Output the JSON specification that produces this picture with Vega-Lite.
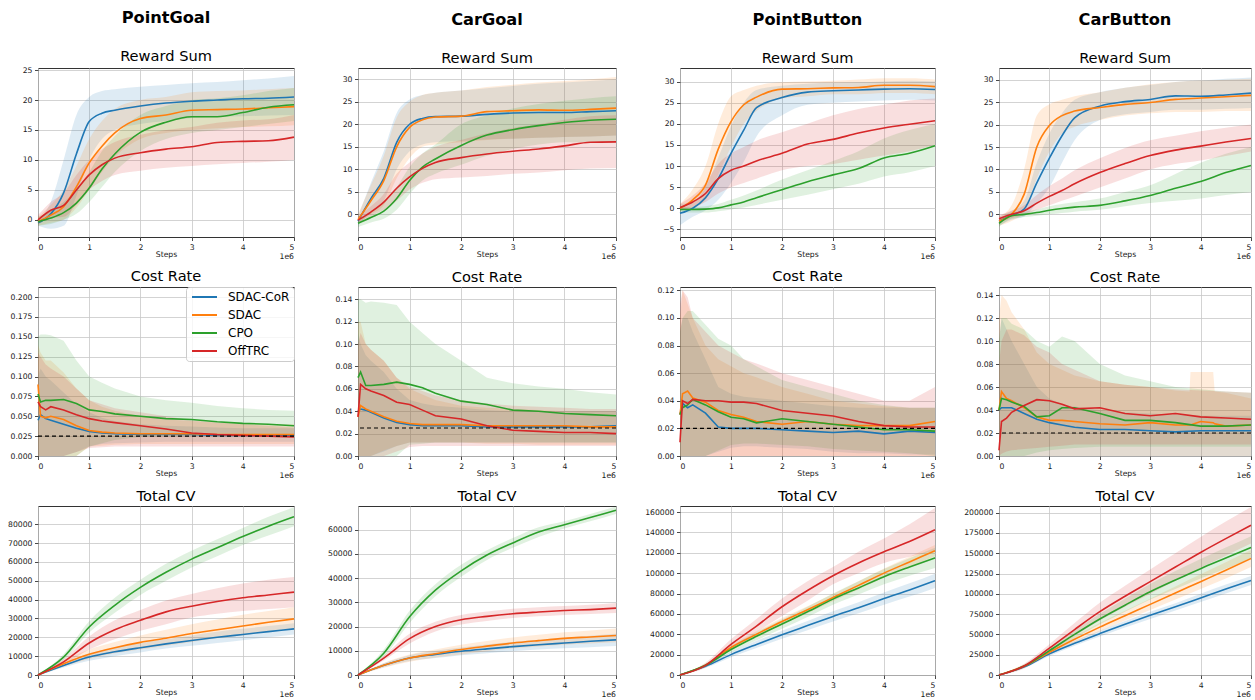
{
"$schema": "https://vega.github.io/schema/vega-lite/v6.json",
"padding": {"left": 7, "top": 9, "right": 0, "bottom": 0},
"datasets": {
"r1": [
{"s":"SDAC-CoR","x":0,"y":-0.5,"lo":-1,"hi":0},{"s":"SDAC-CoR","x":0.25,"y":1,"lo":-1.5,"hi":3},{"s":"SDAC-CoR","x":0.5,"y":4.5,"lo":-1,"hi":10},{"s":"SDAC-CoR","x":0.75,"y":11,"lo":4,"hi":17.5},{"s":"SDAC-CoR","x":1,"y":16.4,"lo":10,"hi":20.5},{"s":"SDAC-CoR","x":1.25,"y":17.8,"lo":13.5,"hi":21.5},{"s":"SDAC-CoR","x":1.5,"y":18.3,"lo":15,"hi":21.8},{"s":"SDAC-CoR","x":2,"y":19,"lo":16,"hi":22.2},{"s":"SDAC-CoR","x":2.5,"y":19.5,"lo":16.5,"hi":22.5},{"s":"SDAC-CoR","x":3,"y":19.8,"lo":17,"hi":22.8},{"s":"SDAC-CoR","x":3.5,"y":20,"lo":17.2,"hi":23},{"s":"SDAC-CoR","x":4,"y":20.2,"lo":17.3,"hi":23.3},{"s":"SDAC-CoR","x":4.5,"y":20.3,"lo":17.4,"hi":23.6},{"s":"SDAC-CoR","x":5,"y":20.5,"lo":17.5,"hi":24},
{"s":"SDAC","x":0,"y":-0.3,"lo":-1,"hi":0.5},{"s":"SDAC","x":0.25,"y":0.8,"lo":-0.5,"hi":2.5},{"s":"SDAC","x":0.5,"y":2.2,"lo":0,"hi":5},{"s":"SDAC","x":0.75,"y":5.5,"lo":2,"hi":9},{"s":"SDAC","x":1,"y":9.5,"lo":5,"hi":13.5},{"s":"SDAC","x":1.25,"y":12.3,"lo":8,"hi":16.5},{"s":"SDAC","x":1.5,"y":14.5,"lo":10.5,"hi":18.5},{"s":"SDAC","x":2,"y":16.9,"lo":13.5,"hi":20},{"s":"SDAC","x":2.5,"y":17.5,"lo":14.5,"hi":20.5},{"s":"SDAC","x":3,"y":18.3,"lo":15,"hi":21.3},{"s":"SDAC","x":3.5,"y":18.4,"lo":15.3,"hi":21.5},{"s":"SDAC","x":4,"y":18.5,"lo":15.5,"hi":21.6},{"s":"SDAC","x":4.5,"y":18.7,"lo":15.6,"hi":21.8},{"s":"SDAC","x":5,"y":18.9,"lo":15.8,"hi":22},
{"s":"CPO","x":0,"y":-0.3,"lo":-1,"hi":0.5},{"s":"CPO","x":0.25,"y":0.3,"lo":-0.7,"hi":1.5},{"s":"CPO","x":0.5,"y":1.2,"lo":0,"hi":3},{"s":"CPO","x":0.75,"y":2.8,"lo":1,"hi":5},{"s":"CPO","x":1,"y":5.3,"lo":3,"hi":8},{"s":"CPO","x":1.25,"y":8.5,"lo":5.5,"hi":11.5},{"s":"CPO","x":1.5,"y":11,"lo":8,"hi":14},{"s":"CPO","x":2,"y":14.6,"lo":11.5,"hi":17.5},{"s":"CPO","x":2.5,"y":16.3,"lo":13.5,"hi":19},{"s":"CPO","x":3,"y":17.2,"lo":14.5,"hi":20},{"s":"CPO","x":3.5,"y":17.2,"lo":15,"hi":20.3},{"s":"CPO","x":4,"y":17.9,"lo":15.5,"hi":20.8},{"s":"CPO","x":4.5,"y":18.8,"lo":16,"hi":21.5},{"s":"CPO","x":5,"y":19.2,"lo":16.5,"hi":22},
{"s":"OffTRC","x":0,"y":0,"lo":-0.8,"hi":0.8},{"s":"OffTRC","x":0.25,"y":1.6,"lo":0.3,"hi":3},{"s":"OffTRC","x":0.5,"y":2.4,"lo":0.5,"hi":4.5},{"s":"OffTRC","x":0.75,"y":5,"lo":2.5,"hi":7.5},{"s":"OffTRC","x":1,"y":7.5,"lo":5,"hi":10},{"s":"OffTRC","x":1.25,"y":9.2,"lo":6.5,"hi":11.8},{"s":"OffTRC","x":1.5,"y":10.3,"lo":7.5,"hi":13},{"s":"OffTRC","x":2,"y":11.2,"lo":8.2,"hi":14.2},{"s":"OffTRC","x":2.5,"y":11.8,"lo":8.7,"hi":15},{"s":"OffTRC","x":3,"y":12.2,"lo":9,"hi":15.5},{"s":"OffTRC","x":3.5,"y":12.9,"lo":9.3,"hi":16.2},{"s":"OffTRC","x":4,"y":13.1,"lo":9.5,"hi":16.6},{"s":"OffTRC","x":4.5,"y":13.2,"lo":9.7,"hi":16.8},{"s":"OffTRC","x":5,"y":13.8,"lo":10,"hi":17.5}
],
"r2": [
{"s":"SDAC-CoR","x":0,"y":-1.5,"lo":-2.5,"hi":-0.5},{"s":"SDAC-CoR","x":0.25,"y":3.5,"lo":0.5,"hi":7},{"s":"SDAC-CoR","x":0.5,"y":8,"lo":3,"hi":14},{"s":"SDAC-CoR","x":0.75,"y":16,"lo":10,"hi":22.5},{"s":"SDAC-CoR","x":1,"y":20,"lo":14,"hi":25.5},{"s":"SDAC-CoR","x":1.25,"y":21.3,"lo":15.5,"hi":26.5},{"s":"SDAC-CoR","x":1.5,"y":21.7,"lo":16,"hi":27},{"s":"SDAC-CoR","x":2,"y":21.8,"lo":16.3,"hi":27.5},{"s":"SDAC-CoR","x":2.5,"y":22.2,"lo":16.6,"hi":28},{"s":"SDAC-CoR","x":3,"y":22.5,"lo":16.8,"hi":28.5},{"s":"SDAC-CoR","x":3.5,"y":22.6,"lo":17,"hi":29},{"s":"SDAC-CoR","x":4,"y":22.6,"lo":17.2,"hi":29.3},{"s":"SDAC-CoR","x":4.5,"y":22.8,"lo":17.3,"hi":29.6},{"s":"SDAC-CoR","x":5,"y":23,"lo":17.5,"hi":30},
{"s":"SDAC","x":0,"y":-1.2,"lo":-2,"hi":0},{"s":"SDAC","x":0.25,"y":3,"lo":0,"hi":6.5},{"s":"SDAC","x":0.5,"y":7.5,"lo":2,"hi":13},{"s":"SDAC","x":0.75,"y":15,"lo":8,"hi":21.5},{"s":"SDAC","x":1,"y":19.3,"lo":12.5,"hi":25},{"s":"SDAC","x":1.25,"y":21,"lo":15,"hi":26.5},{"s":"SDAC","x":1.5,"y":21.6,"lo":15.5,"hi":27},{"s":"SDAC","x":2,"y":21.8,"lo":16,"hi":27.5},{"s":"SDAC","x":2.5,"y":22.8,"lo":16.5,"hi":28.3},{"s":"SDAC","x":3,"y":23,"lo":16.8,"hi":28.8},{"s":"SDAC","x":3.5,"y":23.2,"lo":17,"hi":29.3},{"s":"SDAC","x":4,"y":23.1,"lo":17.2,"hi":29.6},{"s":"SDAC","x":4.5,"y":23.3,"lo":17.3,"hi":30},{"s":"SDAC","x":5,"y":23.6,"lo":17.5,"hi":30.5},
{"s":"CPO","x":0,"y":-2,"lo":-2.8,"hi":-1.2},{"s":"CPO","x":0.25,"y":-0.7,"lo":-1.8,"hi":0.5},{"s":"CPO","x":0.5,"y":0.7,"lo":-1,"hi":2.5},{"s":"CPO","x":0.75,"y":3.5,"lo":1,"hi":6},{"s":"CPO","x":1,"y":7.5,"lo":4.5,"hi":10.5},{"s":"CPO","x":1.25,"y":10.5,"lo":7.5,"hi":13.5},{"s":"CPO","x":1.5,"y":12.3,"lo":9,"hi":15.5},{"s":"CPO","x":2,"y":15.3,"lo":11,"hi":20},{"s":"CPO","x":2.5,"y":17.6,"lo":13,"hi":22},{"s":"CPO","x":3,"y":18.8,"lo":14.5,"hi":23.5},{"s":"CPO","x":3.5,"y":19.7,"lo":15.5,"hi":24.5},{"s":"CPO","x":4,"y":20.4,"lo":16,"hi":25.2},{"s":"CPO","x":4.5,"y":20.9,"lo":16,"hi":25.8},{"s":"CPO","x":5,"y":21.1,"lo":16,"hi":26.2},
{"s":"OffTRC","x":0,"y":-1.3,"lo":-2,"hi":-0.5},{"s":"OffTRC","x":0.25,"y":0.5,"lo":-0.5,"hi":1.8},{"s":"OffTRC","x":0.5,"y":2.7,"lo":1,"hi":4.5},{"s":"OffTRC","x":0.75,"y":5.8,"lo":3,"hi":9},{"s":"OffTRC","x":1,"y":8.3,"lo":5.5,"hi":11.5},{"s":"OffTRC","x":1.25,"y":10.2,"lo":7,"hi":13.5},{"s":"OffTRC","x":1.5,"y":11.5,"lo":7.8,"hi":15},{"s":"OffTRC","x":2,"y":12.6,"lo":8.2,"hi":16.5},{"s":"OffTRC","x":2.5,"y":13.4,"lo":8.5,"hi":18},{"s":"OffTRC","x":3,"y":14,"lo":9,"hi":19.2},{"s":"OffTRC","x":3.5,"y":14.5,"lo":9.3,"hi":20},{"s":"OffTRC","x":4,"y":15.2,"lo":9.8,"hi":21},{"s":"OffTRC","x":4.5,"y":16,"lo":10.2,"hi":21.8},{"s":"OffTRC","x":5,"y":16.1,"lo":10.3,"hi":22}
],
"r3": [
{"s":"SDAC-CoR","x":0,"y":-1.2,"lo":-4,"hi":1},{"s":"SDAC-CoR","x":0.25,"y":0,"lo":-2,"hi":1.5},{"s":"SDAC-CoR","x":0.5,"y":2.5,"lo":-0.5,"hi":5},{"s":"SDAC-CoR","x":0.75,"y":7,"lo":2,"hi":12},{"s":"SDAC-CoR","x":1,"y":13,"lo":6,"hi":19.5},{"s":"SDAC-CoR","x":1.25,"y":18.5,"lo":11,"hi":25},{"s":"SDAC-CoR","x":1.5,"y":23.8,"lo":17,"hi":28},{"s":"SDAC-CoR","x":2,"y":26.2,"lo":22,"hi":29},{"s":"SDAC-CoR","x":2.5,"y":27.5,"lo":24.5,"hi":29.5},{"s":"SDAC-CoR","x":3,"y":27.8,"lo":25,"hi":29.7},{"s":"SDAC-CoR","x":3.5,"y":28,"lo":25.3,"hi":29.8},{"s":"SDAC-CoR","x":4,"y":28.2,"lo":25.5,"hi":30},{"s":"SDAC-CoR","x":4.5,"y":28.3,"lo":25.7,"hi":30.2},{"s":"SDAC-CoR","x":5,"y":28.1,"lo":25.5,"hi":30},
{"s":"SDAC","x":0,"y":0,"lo":-0.5,"hi":1},{"s":"SDAC","x":0.25,"y":2,"lo":0,"hi":4.5},{"s":"SDAC","x":0.5,"y":5.5,"lo":2,"hi":10},{"s":"SDAC","x":0.75,"y":14,"lo":8,"hi":20},{"s":"SDAC","x":1,"y":20.5,"lo":14.5,"hi":26.5},{"s":"SDAC","x":1.25,"y":24.5,"lo":20,"hi":28},{"s":"SDAC","x":1.5,"y":26.3,"lo":23,"hi":29},{"s":"SDAC","x":2,"y":28.2,"lo":26,"hi":29.8},{"s":"SDAC","x":2.5,"y":28.3,"lo":26.5,"hi":30},{"s":"SDAC","x":3,"y":28.5,"lo":27,"hi":30.2},{"s":"SDAC","x":3.5,"y":28.6,"lo":27,"hi":30.5},{"s":"SDAC","x":4,"y":29.1,"lo":27.3,"hi":30.8},{"s":"SDAC","x":4.5,"y":29.1,"lo":27.3,"hi":30.8},{"s":"SDAC","x":5,"y":28.8,"lo":27,"hi":30.5},
{"s":"CPO","x":0,"y":-0.3,"lo":-1,"hi":0.3},{"s":"CPO","x":0.25,"y":-0.3,"lo":-1,"hi":0.3},{"s":"CPO","x":0.5,"y":-0.2,"lo":-1,"hi":0.5},{"s":"CPO","x":0.75,"y":0.1,"lo":-0.7,"hi":1},{"s":"CPO","x":1,"y":0.8,"lo":-0.3,"hi":2},{"s":"CPO","x":1.25,"y":1.5,"lo":0.2,"hi":3},{"s":"CPO","x":1.5,"y":2.5,"lo":0.8,"hi":4.2},{"s":"CPO","x":2,"y":4.4,"lo":2,"hi":6.8},{"s":"CPO","x":2.5,"y":6.3,"lo":3.2,"hi":9},{"s":"CPO","x":3,"y":7.9,"lo":4.5,"hi":11.2},{"s":"CPO","x":3.5,"y":9.4,"lo":5.8,"hi":13.5},{"s":"CPO","x":4,"y":11.9,"lo":7.5,"hi":16.5},{"s":"CPO","x":4.5,"y":13,"lo":8.5,"hi":18.5},{"s":"CPO","x":5,"y":14.8,"lo":10,"hi":20},
{"s":"OffTRC","x":0,"y":0.2,"lo":-0.5,"hi":1},{"s":"OffTRC","x":0.25,"y":1.5,"lo":0.3,"hi":3},{"s":"OffTRC","x":0.5,"y":3.5,"lo":1.5,"hi":6},{"s":"OffTRC","x":0.75,"y":7,"lo":3.5,"hi":10.5},{"s":"OffTRC","x":1,"y":9,"lo":5,"hi":13},{"s":"OffTRC","x":1.25,"y":10,"lo":6,"hi":14.5},{"s":"OffTRC","x":1.5,"y":11.2,"lo":7,"hi":16},{"s":"OffTRC","x":2,"y":13,"lo":9,"hi":18},{"s":"OffTRC","x":2.5,"y":15.2,"lo":10,"hi":20},{"s":"OffTRC","x":3,"y":16.3,"lo":10.5,"hi":22},{"s":"OffTRC","x":3.5,"y":17.8,"lo":11.5,"hi":23.5},{"s":"OffTRC","x":4,"y":19,"lo":12.5,"hi":24.5},{"s":"OffTRC","x":4.5,"y":19.9,"lo":13.5,"hi":25.5},{"s":"OffTRC","x":5,"y":20.7,"lo":15,"hi":26}
],
"r4": [
{"s":"SDAC-CoR","x":0,"y":-1.5,"lo":-2.5,"hi":-0.5},{"s":"SDAC-CoR","x":0.25,"y":-0.2,"lo":-1.2,"hi":0.8},{"s":"SDAC-CoR","x":0.5,"y":1.2,"lo":-0.5,"hi":3},{"s":"SDAC-CoR","x":0.75,"y":7,"lo":2.5,"hi":11.5},{"s":"SDAC-CoR","x":1,"y":12.5,"lo":6,"hi":18},{"s":"SDAC-CoR","x":1.25,"y":17.5,"lo":11.5,"hi":22.5},{"s":"SDAC-CoR","x":1.5,"y":21.5,"lo":16.5,"hi":25.5},{"s":"SDAC-CoR","x":2,"y":24.1,"lo":21,"hi":27.2},{"s":"SDAC-CoR","x":2.5,"y":25.1,"lo":22.3,"hi":28.2},{"s":"SDAC-CoR","x":3,"y":25.6,"lo":22.8,"hi":28.8},{"s":"SDAC-CoR","x":3.5,"y":26.4,"lo":23.3,"hi":29.5},{"s":"SDAC-CoR","x":4,"y":26.3,"lo":23.3,"hi":29.8},{"s":"SDAC-CoR","x":4.5,"y":26.6,"lo":23.5,"hi":30.2},{"s":"SDAC-CoR","x":5,"y":27,"lo":23.7,"hi":30.5},
{"s":"SDAC","x":0,"y":-1.5,"lo":-2.5,"hi":-0.5},{"s":"SDAC","x":0.25,"y":0,"lo":-1.5,"hi":2},{"s":"SDAC","x":0.5,"y":4.5,"lo":0.5,"hi":10},{"s":"SDAC","x":0.75,"y":15,"lo":8,"hi":22},{"s":"SDAC","x":1,"y":19.8,"lo":14,"hi":24.5},{"s":"SDAC","x":1.25,"y":22,"lo":18,"hi":25.5},{"s":"SDAC","x":1.5,"y":23,"lo":19.5,"hi":26.3},{"s":"SDAC","x":2,"y":23.8,"lo":21,"hi":27.2},{"s":"SDAC","x":2.5,"y":24.5,"lo":22,"hi":28.2},{"s":"SDAC","x":3,"y":24.9,"lo":22.5,"hi":29},{"s":"SDAC","x":3.5,"y":25.6,"lo":22.8,"hi":29.5},{"s":"SDAC","x":4,"y":25.9,"lo":22.8,"hi":29.8},{"s":"SDAC","x":4.5,"y":26.2,"lo":23,"hi":30},{"s":"SDAC","x":5,"y":26.5,"lo":23,"hi":30.2},
{"s":"CPO","x":0,"y":-2,"lo":-2.8,"hi":-1.2},{"s":"CPO","x":0.25,"y":-0.3,"lo":-1,"hi":0.4},{"s":"CPO","x":0.5,"y":0,"lo":-0.6,"hi":0.6},{"s":"CPO","x":0.75,"y":0.4,"lo":-0.3,"hi":1.1},{"s":"CPO","x":1,"y":0.9,"lo":0,"hi":1.8},{"s":"CPO","x":1.25,"y":1.3,"lo":0.3,"hi":2.3},{"s":"CPO","x":1.5,"y":1.6,"lo":0.6,"hi":2.7},{"s":"CPO","x":2,"y":2,"lo":1,"hi":3.5},{"s":"CPO","x":2.5,"y":3,"lo":1.8,"hi":5},{"s":"CPO","x":3,"y":4.2,"lo":2.5,"hi":6.5},{"s":"CPO","x":3.5,"y":5.8,"lo":3,"hi":9},{"s":"CPO","x":4,"y":7.3,"lo":3.5,"hi":11.5},{"s":"CPO","x":4.5,"y":9.3,"lo":4.3,"hi":13.5},{"s":"CPO","x":5,"y":10.9,"lo":5,"hi":15},
{"s":"OffTRC","x":0,"y":-1,"lo":-1.8,"hi":-0.2},{"s":"OffTRC","x":0.25,"y":0,"lo":-0.8,"hi":0.8},{"s":"OffTRC","x":0.5,"y":0.8,"lo":-0.2,"hi":2},{"s":"OffTRC","x":0.75,"y":2.5,"lo":1,"hi":4.3},{"s":"OffTRC","x":1,"y":4,"lo":2,"hi":6.3},{"s":"OffTRC","x":1.25,"y":5.3,"lo":3,"hi":8},{"s":"OffTRC","x":1.5,"y":6.8,"lo":4,"hi":9.8},{"s":"OffTRC","x":2,"y":9.3,"lo":6,"hi":12.5},{"s":"OffTRC","x":2.5,"y":11.3,"lo":8,"hi":14.8},{"s":"OffTRC","x":3,"y":13.1,"lo":10,"hi":16.5},{"s":"OffTRC","x":3.5,"y":14.3,"lo":11.2,"hi":17.5},{"s":"OffTRC","x":4,"y":15.2,"lo":12,"hi":18.5},{"s":"OffTRC","x":4.5,"y":16.1,"lo":13,"hi":19.3},{"s":"OffTRC","x":5,"y":16.9,"lo":14,"hi":20}
],
"c1": [
{"s":"SDAC-CoR","x":0,"y":0.045,"lo":0,"hi":0.1},{"s":"SDAC-CoR","x":0.05,"y":0.052,"lo":0,"hi":0.11},{"s":"SDAC-CoR","x":0.15,"y":0.047,"lo":0,"hi":0.1},{"s":"SDAC-CoR","x":0.25,"y":0.045,"lo":0,"hi":0.095},{"s":"SDAC-CoR","x":0.5,"y":0.04,"lo":0,"hi":0.08},{"s":"SDAC-CoR","x":0.75,"y":0.035,"lo":0.005,"hi":0.065},{"s":"SDAC-CoR","x":1,"y":0.031,"lo":0.012,"hi":0.055},{"s":"SDAC-CoR","x":1.25,"y":0.029,"lo":0.015,"hi":0.048},{"s":"SDAC-CoR","x":1.5,"y":0.028,"lo":0.016,"hi":0.044},{"s":"SDAC-CoR","x":2,"y":0.027,"lo":0.017,"hi":0.04},{"s":"SDAC-CoR","x":2.5,"y":0.027,"lo":0.018,"hi":0.038},{"s":"SDAC-CoR","x":3,"y":0.027,"lo":0.018,"hi":0.037},{"s":"SDAC-CoR","x":3.5,"y":0.026,"lo":0.018,"hi":0.036},{"s":"SDAC-CoR","x":4,"y":0.026,"lo":0.018,"hi":0.035},{"s":"SDAC-CoR","x":4.5,"y":0.026,"lo":0.018,"hi":0.035},{"s":"SDAC-CoR","x":5,"y":0.026,"lo":0.018,"hi":0.035},
{"s":"SDAC","x":0,"y":0.09,"lo":0,"hi":0.14},{"s":"SDAC","x":0.05,"y":0.05,"lo":0,"hi":0.13},{"s":"SDAC","x":0.15,"y":0.048,"lo":0,"hi":0.12},{"s":"SDAC","x":0.25,"y":0.05,"lo":0,"hi":0.12},{"s":"SDAC","x":0.5,"y":0.046,"lo":0,"hi":0.105},{"s":"SDAC","x":0.75,"y":0.038,"lo":0,"hi":0.085},{"s":"SDAC","x":1,"y":0.032,"lo":0.012,"hi":0.07},{"s":"SDAC","x":1.25,"y":0.03,"lo":0.013,"hi":0.062},{"s":"SDAC","x":1.5,"y":0.029,"lo":0.014,"hi":0.057},{"s":"SDAC","x":2,"y":0.028,"lo":0.015,"hi":0.05},{"s":"SDAC","x":2.5,"y":0.028,"lo":0.015,"hi":0.046},{"s":"SDAC","x":3,"y":0.028,"lo":0.015,"hi":0.044},{"s":"SDAC","x":3.5,"y":0.027,"lo":0.015,"hi":0.042},{"s":"SDAC","x":4,"y":0.027,"lo":0.015,"hi":0.041},{"s":"SDAC","x":4.5,"y":0.027,"lo":0.015,"hi":0.04},{"s":"SDAC","x":5,"y":0.027,"lo":0.015,"hi":0.04},
{"s":"CPO","x":0,"y":0.078,"lo":0,"hi":0.15},{"s":"CPO","x":0.05,"y":0.068,"lo":0,"hi":0.153},{"s":"CPO","x":0.15,"y":0.07,"lo":0,"hi":0.153},{"s":"CPO","x":0.25,"y":0.07,"lo":0,"hi":0.152},{"s":"CPO","x":0.5,"y":0.071,"lo":0,"hi":0.145},{"s":"CPO","x":0.75,"y":0.066,"lo":0,"hi":0.12},{"s":"CPO","x":1,"y":0.058,"lo":0.012,"hi":0.1},{"s":"CPO","x":1.25,"y":0.056,"lo":0.016,"hi":0.092},{"s":"CPO","x":1.5,"y":0.053,"lo":0.02,"hi":0.085},{"s":"CPO","x":2,"y":0.05,"lo":0.024,"hi":0.075},{"s":"CPO","x":2.5,"y":0.047,"lo":0.025,"hi":0.07},{"s":"CPO","x":3,"y":0.046,"lo":0.025,"hi":0.067},{"s":"CPO","x":3.5,"y":0.043,"lo":0.025,"hi":0.063},{"s":"CPO","x":4,"y":0.041,"lo":0.025,"hi":0.06},{"s":"CPO","x":4.5,"y":0.04,"lo":0.025,"hi":0.058},{"s":"CPO","x":5,"y":0.038,"lo":0.025,"hi":0.057},
{"s":"OffTRC","x":0,"y":0.068,"lo":0,"hi":0.13},{"s":"OffTRC","x":0.05,"y":0.062,"lo":0,"hi":0.125},{"s":"OffTRC","x":0.15,"y":0.058,"lo":0,"hi":0.115},{"s":"OffTRC","x":0.25,"y":0.062,"lo":0,"hi":0.11},{"s":"OffTRC","x":0.5,"y":0.058,"lo":0,"hi":0.1},{"s":"OffTRC","x":0.75,"y":0.052,"lo":0.005,"hi":0.085},{"s":"OffTRC","x":1,"y":0.047,"lo":0.01,"hi":0.07},{"s":"OffTRC","x":1.25,"y":0.044,"lo":0.011,"hi":0.065},{"s":"OffTRC","x":1.5,"y":0.042,"lo":0.012,"hi":0.06},{"s":"OffTRC","x":2,"y":0.038,"lo":0.012,"hi":0.055},{"s":"OffTRC","x":2.5,"y":0.034,"lo":0.012,"hi":0.05},{"s":"OffTRC","x":3,"y":0.029,"lo":0.012,"hi":0.045},{"s":"OffTRC","x":3.5,"y":0.027,"lo":0.012,"hi":0.042},{"s":"OffTRC","x":4,"y":0.026,"lo":0.012,"hi":0.04},{"s":"OffTRC","x":4.5,"y":0.025,"lo":0.012,"hi":0.038},{"s":"OffTRC","x":5,"y":0.024,"lo":0.012,"hi":0.036}
],
"c2": [
{"s":"SDAC-CoR","x":0,"y":0.04,"lo":0,"hi":0.11},{"s":"SDAC-CoR","x":0.05,"y":0.042,"lo":0,"hi":0.1},{"s":"SDAC-CoR","x":0.15,"y":0.041,"lo":0,"hi":0.09},{"s":"SDAC-CoR","x":0.25,"y":0.039,"lo":0,"hi":0.085},{"s":"SDAC-CoR","x":0.5,"y":0.034,"lo":0.004,"hi":0.075},{"s":"SDAC-CoR","x":0.75,"y":0.03,"lo":0.009,"hi":0.06},{"s":"SDAC-CoR","x":1,"y":0.028,"lo":0.012,"hi":0.05},{"s":"SDAC-CoR","x":1.25,"y":0.027,"lo":0.012,"hi":0.047},{"s":"SDAC-CoR","x":1.5,"y":0.027,"lo":0.012,"hi":0.045},{"s":"SDAC-CoR","x":2,"y":0.027,"lo":0.012,"hi":0.043},{"s":"SDAC-CoR","x":2.5,"y":0.026,"lo":0.012,"hi":0.041},{"s":"SDAC-CoR","x":3,"y":0.026,"lo":0.012,"hi":0.04},{"s":"SDAC-CoR","x":3.5,"y":0.026,"lo":0.012,"hi":0.04},{"s":"SDAC-CoR","x":4,"y":0.026,"lo":0.012,"hi":0.04},{"s":"SDAC-CoR","x":4.5,"y":0.026,"lo":0.012,"hi":0.04},{"s":"SDAC-CoR","x":5,"y":0.027,"lo":0.012,"hi":0.04},
{"s":"SDAC","x":0,"y":0.035,"lo":0,"hi":0.12},{"s":"SDAC","x":0.05,"y":0.045,"lo":0,"hi":0.12},{"s":"SDAC","x":0.15,"y":0.042,"lo":0,"hi":0.1},{"s":"SDAC","x":0.25,"y":0.04,"lo":0,"hi":0.095},{"s":"SDAC","x":0.5,"y":0.035,"lo":0.005,"hi":0.085},{"s":"SDAC","x":0.75,"y":0.031,"lo":0.009,"hi":0.07},{"s":"SDAC","x":1,"y":0.029,"lo":0.012,"hi":0.06},{"s":"SDAC","x":1.25,"y":0.028,"lo":0.012,"hi":0.055},{"s":"SDAC","x":1.5,"y":0.028,"lo":0.012,"hi":0.05},{"s":"SDAC","x":2,"y":0.028,"lo":0.012,"hi":0.045},{"s":"SDAC","x":2.5,"y":0.027,"lo":0.011,"hi":0.043},{"s":"SDAC","x":3,"y":0.027,"lo":0.011,"hi":0.042},{"s":"SDAC","x":3.5,"y":0.027,"lo":0.01,"hi":0.041},{"s":"SDAC","x":4,"y":0.027,"lo":0.01,"hi":0.04},{"s":"SDAC","x":4.5,"y":0.026,"lo":0.01,"hi":0.04},{"s":"SDAC","x":5,"y":0.026,"lo":0.01,"hi":0.04},
{"s":"CPO","x":0,"y":0.07,"lo":0,"hi":0.14},{"s":"CPO","x":0.05,"y":0.075,"lo":0,"hi":0.14},{"s":"CPO","x":0.15,"y":0.063,"lo":0,"hi":0.137},{"s":"CPO","x":0.25,"y":0.063,"lo":0,"hi":0.138},{"s":"CPO","x":0.5,"y":0.064,"lo":0,"hi":0.137},{"s":"CPO","x":0.75,"y":0.066,"lo":0,"hi":0.135},{"s":"CPO","x":1,"y":0.064,"lo":0.01,"hi":0.12},{"s":"CPO","x":1.25,"y":0.061,"lo":0.011,"hi":0.11},{"s":"CPO","x":1.5,"y":0.056,"lo":0.012,"hi":0.1},{"s":"CPO","x":2,"y":0.049,"lo":0.012,"hi":0.085},{"s":"CPO","x":2.5,"y":0.046,"lo":0.012,"hi":0.07},{"s":"CPO","x":3,"y":0.041,"lo":0.012,"hi":0.065},{"s":"CPO","x":3.5,"y":0.04,"lo":0.012,"hi":0.062},{"s":"CPO","x":4,"y":0.038,"lo":0.012,"hi":0.06},{"s":"CPO","x":4.5,"y":0.037,"lo":0.012,"hi":0.057},{"s":"CPO","x":5,"y":0.036,"lo":0.012,"hi":0.055},
{"s":"OffTRC","x":0,"y":0.035,"lo":0,"hi":0.1},{"s":"OffTRC","x":0.05,"y":0.064,"lo":0,"hi":0.11},{"s":"OffTRC","x":0.15,"y":0.06,"lo":0,"hi":0.1},{"s":"OffTRC","x":0.25,"y":0.058,"lo":0,"hi":0.095},{"s":"OffTRC","x":0.5,"y":0.054,"lo":0,"hi":0.085},{"s":"OffTRC","x":0.75,"y":0.048,"lo":0.004,"hi":0.07},{"s":"OffTRC","x":1,"y":0.046,"lo":0.008,"hi":0.062},{"s":"OffTRC","x":1.25,"y":0.041,"lo":0.009,"hi":0.058},{"s":"OffTRC","x":1.5,"y":0.036,"lo":0.009,"hi":0.054},{"s":"OffTRC","x":2,"y":0.033,"lo":0.009,"hi":0.05},{"s":"OffTRC","x":2.5,"y":0.027,"lo":0.009,"hi":0.047},{"s":"OffTRC","x":3,"y":0.023,"lo":0.009,"hi":0.045},{"s":"OffTRC","x":3.5,"y":0.022,"lo":0.009,"hi":0.044},{"s":"OffTRC","x":4,"y":0.021,"lo":0.009,"hi":0.043},{"s":"OffTRC","x":4.5,"y":0.021,"lo":0.009,"hi":0.042},{"s":"OffTRC","x":5,"y":0.02,"lo":0.009,"hi":0.042}
],
"c3": [
{"s":"SDAC-CoR","x":0,"y":0.03,"lo":0,"hi":0.09},{"s":"SDAC-CoR","x":0.05,"y":0.038,"lo":0,"hi":0.1},{"s":"SDAC-CoR","x":0.15,"y":0.035,"lo":0,"hi":0.1},{"s":"SDAC-CoR","x":0.25,"y":0.037,"lo":0,"hi":0.09},{"s":"SDAC-CoR","x":0.5,"y":0.031,"lo":0,"hi":0.07},{"s":"SDAC-CoR","x":0.75,"y":0.021,"lo":0.003,"hi":0.05},{"s":"SDAC-CoR","x":1,"y":0.02,"lo":0.006,"hi":0.045},{"s":"SDAC-CoR","x":1.25,"y":0.02,"lo":0.007,"hi":0.043},{"s":"SDAC-CoR","x":1.5,"y":0.02,"lo":0.007,"hi":0.042},{"s":"SDAC-CoR","x":2,"y":0.019,"lo":0.006,"hi":0.04},{"s":"SDAC-CoR","x":2.5,"y":0.018,"lo":0.005,"hi":0.038},{"s":"SDAC-CoR","x":3,"y":0.017,"lo":0.003,"hi":0.036},{"s":"SDAC-CoR","x":3.5,"y":0.018,"lo":0.002,"hi":0.035},{"s":"SDAC-CoR","x":4,"y":0.016,"lo":0.002,"hi":0.035},{"s":"SDAC-CoR","x":4.5,"y":0.018,"lo":0.001,"hi":0.035},{"s":"SDAC-CoR","x":5,"y":0.017,"lo":0.001,"hi":0.035},
{"s":"SDAC","x":0,"y":0.03,"lo":0,"hi":0.1},{"s":"SDAC","x":0.05,"y":0.045,"lo":0,"hi":0.12},{"s":"SDAC","x":0.15,"y":0.047,"lo":0,"hi":0.11},{"s":"SDAC","x":0.25,"y":0.042,"lo":0,"hi":0.1},{"s":"SDAC","x":0.5,"y":0.039,"lo":0,"hi":0.08},{"s":"SDAC","x":0.75,"y":0.033,"lo":0,"hi":0.07},{"s":"SDAC","x":1,"y":0.03,"lo":0,"hi":0.065},{"s":"SDAC","x":1.25,"y":0.028,"lo":0,"hi":0.06},{"s":"SDAC","x":1.5,"y":0.025,"lo":0,"hi":0.057},{"s":"SDAC","x":2,"y":0.023,"lo":0,"hi":0.05},{"s":"SDAC","x":2.5,"y":0.025,"lo":0,"hi":0.045},{"s":"SDAC","x":3,"y":0.023,"lo":0,"hi":0.04},{"s":"SDAC","x":3.5,"y":0.022,"lo":0,"hi":0.038},{"s":"SDAC","x":4,"y":0.022,"lo":0,"hi":0.036},{"s":"SDAC","x":4.5,"y":0.022,"lo":0,"hi":0.035},{"s":"SDAC","x":5,"y":0.025,"lo":0,"hi":0.035},
{"s":"CPO","x":0,"y":0.03,"lo":0,"hi":0.09},{"s":"CPO","x":0.05,"y":0.035,"lo":0,"hi":0.1},{"s":"CPO","x":0.15,"y":0.037,"lo":0,"hi":0.105},{"s":"CPO","x":0.25,"y":0.041,"lo":0,"hi":0.105},{"s":"CPO","x":0.5,"y":0.037,"lo":0,"hi":0.095},{"s":"CPO","x":0.75,"y":0.032,"lo":0.004,"hi":0.085},{"s":"CPO","x":1,"y":0.028,"lo":0.008,"hi":0.08},{"s":"CPO","x":1.25,"y":0.027,"lo":0.009,"hi":0.07},{"s":"CPO","x":1.5,"y":0.024,"lo":0.009,"hi":0.065},{"s":"CPO","x":2,"y":0.027,"lo":0.008,"hi":0.055},{"s":"CPO","x":2.5,"y":0.025,"lo":0.007,"hi":0.05},{"s":"CPO","x":3,"y":0.023,"lo":0.005,"hi":0.045},{"s":"CPO","x":3.5,"y":0.021,"lo":0.004,"hi":0.04},{"s":"CPO","x":4,"y":0.019,"lo":0.003,"hi":0.037},{"s":"CPO","x":4.5,"y":0.019,"lo":0.002,"hi":0.035},{"s":"CPO","x":5,"y":0.018,"lo":0,"hi":0.035},
{"s":"OffTRC","x":0,"y":0.01,"lo":0,"hi":0.11},{"s":"OffTRC","x":0.05,"y":0.04,"lo":0,"hi":0.12},{"s":"OffTRC","x":0.15,"y":0.038,"lo":0,"hi":0.115},{"s":"OffTRC","x":0.25,"y":0.041,"lo":0,"hi":0.1},{"s":"OffTRC","x":0.5,"y":0.04,"lo":0,"hi":0.09},{"s":"OffTRC","x":0.75,"y":0.04,"lo":0,"hi":0.08},{"s":"OffTRC","x":1,"y":0.039,"lo":0,"hi":0.075},{"s":"OffTRC","x":1.25,"y":0.039,"lo":0,"hi":0.07},{"s":"OffTRC","x":1.5,"y":0.038,"lo":0,"hi":0.067},{"s":"OffTRC","x":2,"y":0.033,"lo":0,"hi":0.06},{"s":"OffTRC","x":2.5,"y":0.031,"lo":0,"hi":0.055},{"s":"OffTRC","x":3,"y":0.029,"lo":0,"hi":0.05},{"s":"OffTRC","x":3.5,"y":0.025,"lo":0,"hi":0.045},{"s":"OffTRC","x":4,"y":0.022,"lo":0,"hi":0.04},{"s":"OffTRC","x":4.5,"y":0.021,"lo":0,"hi":0.04},{"s":"OffTRC","x":5,"y":0.021,"lo":0,"hi":0.05}
],
"c4": [
{"s":"SDAC-CoR","x":0,"y":0.04,"lo":0,"hi":0.1},{"s":"SDAC-CoR","x":0.05,"y":0.042,"lo":0,"hi":0.12},{"s":"SDAC-CoR","x":0.15,"y":0.042,"lo":0,"hi":0.11},{"s":"SDAC-CoR","x":0.25,"y":0.042,"lo":0,"hi":0.1},{"s":"SDAC-CoR","x":0.5,"y":0.037,"lo":0,"hi":0.08},{"s":"SDAC-CoR","x":0.75,"y":0.032,"lo":0,"hi":0.06},{"s":"SDAC-CoR","x":1,"y":0.029,"lo":0,"hi":0.05},{"s":"SDAC-CoR","x":1.25,"y":0.027,"lo":0,"hi":0.045},{"s":"SDAC-CoR","x":1.5,"y":0.025,"lo":0,"hi":0.043},{"s":"SDAC-CoR","x":2,"y":0.023,"lo":0,"hi":0.04},{"s":"SDAC-CoR","x":2.5,"y":0.023,"lo":0,"hi":0.038},{"s":"SDAC-CoR","x":3,"y":0.022,"lo":0,"hi":0.037},{"s":"SDAC-CoR","x":3.5,"y":0.021,"lo":0,"hi":0.036},{"s":"SDAC-CoR","x":4,"y":0.022,"lo":0,"hi":0.035},{"s":"SDAC-CoR","x":4.5,"y":0.022,"lo":0,"hi":0.035},{"s":"SDAC-CoR","x":5,"y":0.022,"lo":0,"hi":0.035},
{"s":"SDAC","x":0,"y":0.04,"lo":0,"hi":0.12},{"s":"SDAC","x":0.05,"y":0.056,"lo":0,"hi":0.14},{"s":"SDAC","x":0.15,"y":0.05,"lo":0,"hi":0.135},{"s":"SDAC","x":0.25,"y":0.048,"lo":0,"hi":0.125},{"s":"SDAC","x":0.5,"y":0.042,"lo":0,"hi":0.11},{"s":"SDAC","x":0.75,"y":0.034,"lo":0,"hi":0.09},{"s":"SDAC","x":1,"y":0.031,"lo":0,"hi":0.08},{"s":"SDAC","x":1.25,"y":0.031,"lo":0,"hi":0.075},{"s":"SDAC","x":1.5,"y":0.03,"lo":0,"hi":0.07},{"s":"SDAC","x":2,"y":0.028,"lo":0,"hi":0.065},{"s":"SDAC","x":2.5,"y":0.027,"lo":0,"hi":0.062},{"s":"SDAC","x":3,"y":0.029,"lo":0,"hi":0.06},{"s":"SDAC","x":3.5,"y":0.027,"lo":0,"hi":0.057},{"s":"SDAC","x":3.78,"y":0.027,"lo":0,"hi":0.056},{"s":"SDAC","x":3.8,"y":0.027,"lo":0,"hi":0.073},{"s":"SDAC","x":4,"y":0.03,"lo":0,"hi":0.073},{"s":"SDAC","x":4.25,"y":0.029,"lo":0,"hi":0.073},{"s":"SDAC","x":4.28,"y":0.028,"lo":0,"hi":0.056},{"s":"SDAC","x":4.5,"y":0.026,"lo":0,"hi":0.055},{"s":"SDAC","x":5,"y":0.027,"lo":0,"hi":0.05},
{"s":"CPO","x":0,"y":0.04,"lo":0,"hi":0.1},{"s":"CPO","x":0.05,"y":0.05,"lo":0,"hi":0.12},{"s":"CPO","x":0.15,"y":0.049,"lo":0,"hi":0.12},{"s":"CPO","x":0.25,"y":0.047,"lo":0,"hi":0.115},{"s":"CPO","x":0.5,"y":0.043,"lo":0,"hi":0.11},{"s":"CPO","x":0.75,"y":0.034,"lo":0.003,"hi":0.1},{"s":"CPO","x":1,"y":0.035,"lo":0.005,"hi":0.095},{"s":"CPO","x":1.25,"y":0.042,"lo":0.006,"hi":0.104},{"s":"CPO","x":1.5,"y":0.042,"lo":0.007,"hi":0.1},{"s":"CPO","x":2,"y":0.037,"lo":0.008,"hi":0.08},{"s":"CPO","x":2.5,"y":0.031,"lo":0.008,"hi":0.07},{"s":"CPO","x":3,"y":0.031,"lo":0.008,"hi":0.065},{"s":"CPO","x":3.5,"y":0.029,"lo":0.008,"hi":0.06},{"s":"CPO","x":4,"y":0.026,"lo":0.008,"hi":0.058},{"s":"CPO","x":4.5,"y":0.026,"lo":0.008,"hi":0.056},{"s":"CPO","x":5,"y":0.027,"lo":0.008,"hi":0.055},
{"s":"OffTRC","x":0,"y":0.005,"lo":0,"hi":0.08},{"s":"OffTRC","x":0.05,"y":0.03,"lo":0.002,"hi":0.1},{"s":"OffTRC","x":0.15,"y":0.033,"lo":0.004,"hi":0.11},{"s":"OffTRC","x":0.25,"y":0.038,"lo":0.005,"hi":0.11},{"s":"OffTRC","x":0.5,"y":0.044,"lo":0.006,"hi":0.105},{"s":"OffTRC","x":0.75,"y":0.049,"lo":0.007,"hi":0.095},{"s":"OffTRC","x":1,"y":0.048,"lo":0.008,"hi":0.09},{"s":"OffTRC","x":1.25,"y":0.045,"lo":0.009,"hi":0.08},{"s":"OffTRC","x":1.5,"y":0.041,"lo":0.01,"hi":0.075},{"s":"OffTRC","x":2,"y":0.042,"lo":0.01,"hi":0.065},{"s":"OffTRC","x":2.5,"y":0.037,"lo":0.01,"hi":0.062},{"s":"OffTRC","x":3,"y":0.035,"lo":0.01,"hi":0.06},{"s":"OffTRC","x":3.5,"y":0.037,"lo":0.01,"hi":0.058},{"s":"OffTRC","x":4,"y":0.034,"lo":0.01,"hi":0.057},{"s":"OffTRC","x":4.5,"y":0.033,"lo":0.01,"hi":0.056},{"s":"OffTRC","x":5,"y":0.032,"lo":0.01,"hi":0.055}
],
"v1": [
{"s":"SDAC-CoR","x":0,"y":0,"lo":0,"hi":0},{"s":"SDAC-CoR","x":0.5,"y":5000,"lo":4000,"hi":6000},{"s":"SDAC-CoR","x":1,"y":9500,"lo":7500,"hi":11500},{"s":"SDAC-CoR","x":1.5,"y":12300,"lo":10000,"hi":14500},{"s":"SDAC-CoR","x":2,"y":14500,"lo":12000,"hi":17000},{"s":"SDAC-CoR","x":2.5,"y":16500,"lo":14000,"hi":19000},{"s":"SDAC-CoR","x":3,"y":18300,"lo":15500,"hi":21000},{"s":"SDAC-CoR","x":3.5,"y":20000,"lo":17000,"hi":23000},{"s":"SDAC-CoR","x":4,"y":21500,"lo":18500,"hi":24500},{"s":"SDAC-CoR","x":4.5,"y":23000,"lo":20000,"hi":26000},{"s":"SDAC-CoR","x":5,"y":24500,"lo":21500,"hi":27500},
{"s":"SDAC","x":0,"y":0,"lo":0,"hi":0},{"s":"SDAC","x":0.5,"y":6000,"lo":4500,"hi":7500},{"s":"SDAC","x":1,"y":11000,"lo":8500,"hi":13500},{"s":"SDAC","x":1.5,"y":14500,"lo":11500,"hi":17500},{"s":"SDAC","x":2,"y":17300,"lo":13500,"hi":21000},{"s":"SDAC","x":2.5,"y":19500,"lo":15500,"hi":24000},{"s":"SDAC","x":3,"y":22000,"lo":17500,"hi":27000},{"s":"SDAC","x":3.5,"y":24000,"lo":19500,"hi":29500},{"s":"SDAC","x":4,"y":26000,"lo":21000,"hi":32000},{"s":"SDAC","x":4.5,"y":28000,"lo":23000,"hi":34000},{"s":"SDAC","x":5,"y":29800,"lo":24500,"hi":36000},
{"s":"CPO","x":0,"y":0,"lo":0,"hi":0},{"s":"CPO","x":0.5,"y":9500,"lo":8000,"hi":11000},{"s":"CPO","x":1,"y":25500,"lo":22500,"hi":28500},{"s":"CPO","x":1.5,"y":37000,"lo":33000,"hi":41000},{"s":"CPO","x":2,"y":46500,"lo":42500,"hi":50500},{"s":"CPO","x":2.5,"y":54500,"lo":50000,"hi":59000},{"s":"CPO","x":3,"y":61500,"lo":57000,"hi":66000},{"s":"CPO","x":3.5,"y":67500,"lo":63000,"hi":72000},{"s":"CPO","x":4,"y":73500,"lo":69000,"hi":78000},{"s":"CPO","x":4.5,"y":79000,"lo":74000,"hi":84000},{"s":"CPO","x":5,"y":84000,"lo":79000,"hi":89000},
{"s":"OffTRC","x":0,"y":0,"lo":0,"hi":0},{"s":"OffTRC","x":0.5,"y":7000,"lo":5500,"hi":8500},{"s":"OffTRC","x":1,"y":17000,"lo":13500,"hi":20500},{"s":"OffTRC","x":1.5,"y":24000,"lo":19000,"hi":29000},{"s":"OffTRC","x":2,"y":29000,"lo":23500,"hi":34500},{"s":"OffTRC","x":2.5,"y":33500,"lo":27000,"hi":39500},{"s":"OffTRC","x":3,"y":36500,"lo":30500,"hi":43000},{"s":"OffTRC","x":3.5,"y":39000,"lo":32500,"hi":46000},{"s":"OffTRC","x":4,"y":41000,"lo":34000,"hi":48500},{"s":"OffTRC","x":4.5,"y":42500,"lo":35000,"hi":50500},{"s":"OffTRC","x":5,"y":44000,"lo":36000,"hi":52000}
],
"v2": [
{"s":"SDAC-CoR","x":0,"y":0,"lo":0,"hi":0},{"s":"SDAC-CoR","x":0.5,"y":4000,"lo":3200,"hi":4800},{"s":"SDAC-CoR","x":1,"y":7000,"lo":5800,"hi":8200},{"s":"SDAC-CoR","x":1.5,"y":8500,"lo":7000,"hi":10000},{"s":"SDAC-CoR","x":2,"y":9800,"lo":8200,"hi":11400},{"s":"SDAC-CoR","x":2.5,"y":10800,"lo":9000,"hi":12600},{"s":"SDAC-CoR","x":3,"y":11700,"lo":9800,"hi":13600},{"s":"SDAC-CoR","x":3.5,"y":12500,"lo":10500,"hi":14500},{"s":"SDAC-CoR","x":4,"y":13200,"lo":11000,"hi":15400},{"s":"SDAC-CoR","x":4.5,"y":13900,"lo":11500,"hi":16200},{"s":"SDAC-CoR","x":5,"y":14500,"lo":12000,"hi":17000},
{"s":"SDAC","x":0,"y":0,"lo":0,"hi":0},{"s":"SDAC","x":0.5,"y":4000,"lo":3000,"hi":5000},{"s":"SDAC","x":1,"y":7000,"lo":5500,"hi":8500},{"s":"SDAC","x":1.5,"y":8800,"lo":7200,"hi":10500},{"s":"SDAC","x":2,"y":10500,"lo":8500,"hi":12500},{"s":"SDAC","x":2.5,"y":11900,"lo":9800,"hi":14000},{"s":"SDAC","x":3,"y":13200,"lo":11000,"hi":15500},{"s":"SDAC","x":3.5,"y":14200,"lo":11800,"hi":16600},{"s":"SDAC","x":4,"y":15100,"lo":12500,"hi":17600},{"s":"SDAC","x":4.5,"y":15700,"lo":13000,"hi":18400},{"s":"SDAC","x":5,"y":16300,"lo":13500,"hi":19200},
{"s":"CPO","x":0,"y":0,"lo":0,"hi":0},{"s":"CPO","x":0.5,"y":9000,"lo":7500,"hi":10500},{"s":"CPO","x":1,"y":24000,"lo":21500,"hi":26500},{"s":"CPO","x":1.5,"y":35000,"lo":32500,"hi":37500},{"s":"CPO","x":2,"y":43000,"lo":40500,"hi":45500},{"s":"CPO","x":2.5,"y":49500,"lo":47500,"hi":51500},{"s":"CPO","x":3,"y":54500,"lo":52500,"hi":56500},{"s":"CPO","x":3.5,"y":59000,"lo":57000,"hi":61000},{"s":"CPO","x":4,"y":62000,"lo":60500,"hi":63500},{"s":"CPO","x":4.5,"y":65000,"lo":63500,"hi":66500},{"s":"CPO","x":5,"y":68000,"lo":66500,"hi":69500},
{"s":"OffTRC","x":0,"y":0,"lo":0,"hi":0},{"s":"OffTRC","x":0.5,"y":7000,"lo":6000,"hi":8000},{"s":"OffTRC","x":1,"y":15000,"lo":13000,"hi":17000},{"s":"OffTRC","x":1.5,"y":20000,"lo":18000,"hi":22000},{"s":"OffTRC","x":2,"y":22800,"lo":20800,"hi":24800},{"s":"OffTRC","x":2.5,"y":24200,"lo":22300,"hi":26200},{"s":"OffTRC","x":3,"y":25300,"lo":23500,"hi":27300},{"s":"OffTRC","x":3.5,"y":26000,"lo":24200,"hi":28000},{"s":"OffTRC","x":4,"y":26600,"lo":24800,"hi":28500},{"s":"OffTRC","x":4.5,"y":27000,"lo":25200,"hi":29000},{"s":"OffTRC","x":5,"y":27600,"lo":25600,"hi":29700}
],
"v3": [
{"s":"SDAC-CoR","x":0,"y":0,"lo":0,"hi":0},{"s":"SDAC-CoR","x":0.5,"y":8500,"lo":7000,"hi":10000},{"s":"SDAC-CoR","x":1,"y":20000,"lo":17500,"hi":22500},{"s":"SDAC-CoR","x":1.5,"y":30000,"lo":26500,"hi":33500},{"s":"SDAC-CoR","x":2,"y":39500,"lo":35500,"hi":43500},{"s":"SDAC-CoR","x":2.5,"y":48500,"lo":44000,"hi":53000},{"s":"SDAC-CoR","x":3,"y":57500,"lo":52500,"hi":62500},{"s":"SDAC-CoR","x":3.5,"y":66000,"lo":60500,"hi":71500},{"s":"SDAC-CoR","x":4,"y":75000,"lo":69000,"hi":81000},{"s":"SDAC-CoR","x":4.5,"y":83500,"lo":77000,"hi":90000},{"s":"SDAC-CoR","x":5,"y":92500,"lo":85500,"hi":99500},
{"s":"SDAC","x":0,"y":0,"lo":0,"hi":0},{"s":"SDAC","x":0.5,"y":9500,"lo":8000,"hi":11000},{"s":"SDAC","x":1,"y":27000,"lo":24500,"hi":29500},{"s":"SDAC","x":1.5,"y":40000,"lo":37000,"hi":43000},{"s":"SDAC","x":2,"y":52500,"lo":49000,"hi":56000},{"s":"SDAC","x":2.5,"y":64000,"lo":60500,"hi":67500},{"s":"SDAC","x":3,"y":76000,"lo":72500,"hi":79500},{"s":"SDAC","x":3.5,"y":88000,"lo":84000,"hi":92000},{"s":"SDAC","x":4,"y":100000,"lo":95500,"hi":104500},{"s":"SDAC","x":4.5,"y":111000,"lo":106000,"hi":116000},{"s":"SDAC","x":5,"y":122000,"lo":116500,"hi":127500},
{"s":"CPO","x":0,"y":0,"lo":0,"hi":0},{"s":"CPO","x":0.5,"y":9500,"lo":8000,"hi":11000},{"s":"CPO","x":1,"y":25000,"lo":22000,"hi":28000},{"s":"CPO","x":1.5,"y":38000,"lo":34000,"hi":42000},{"s":"CPO","x":2,"y":50000,"lo":45500,"hi":54500},{"s":"CPO","x":2.5,"y":62000,"lo":57000,"hi":67000},{"s":"CPO","x":3,"y":74500,"lo":69000,"hi":80000},{"s":"CPO","x":3.5,"y":85500,"lo":79000,"hi":92000},{"s":"CPO","x":4,"y":96500,"lo":89000,"hi":104000},{"s":"CPO","x":4.5,"y":106000,"lo":97500,"hi":114500},{"s":"CPO","x":5,"y":115000,"lo":105000,"hi":125000},
{"s":"OffTRC","x":0,"y":0,"lo":0,"hi":0},{"s":"OffTRC","x":0.5,"y":9500,"lo":7000,"hi":12000},{"s":"OffTRC","x":1,"y":30000,"lo":25000,"hi":35000},{"s":"OffTRC","x":1.5,"y":48000,"lo":42000,"hi":55000},{"s":"OffTRC","x":2,"y":67000,"lo":58000,"hi":75000},{"s":"OffTRC","x":2.5,"y":83000,"lo":73000,"hi":92000},{"s":"OffTRC","x":3,"y":97500,"lo":89000,"hi":106000},{"s":"OffTRC","x":3.5,"y":110000,"lo":100000,"hi":121000},{"s":"OffTRC","x":4,"y":121000,"lo":110000,"hi":134000},{"s":"OffTRC","x":4.5,"y":131000,"lo":116000,"hi":148000},{"s":"OffTRC","x":5,"y":142500,"lo":122000,"hi":164000}
],
"v4": [
{"s":"SDAC-CoR","x":0,"y":0,"lo":0,"hi":0},{"s":"SDAC-CoR","x":0.5,"y":10000,"lo":8500,"hi":11500},{"s":"SDAC-CoR","x":1,"y":26000,"lo":23500,"hi":28500},{"s":"SDAC-CoR","x":1.5,"y":39000,"lo":36000,"hi":42000},{"s":"SDAC-CoR","x":2,"y":51000,"lo":47500,"hi":54500},{"s":"SDAC-CoR","x":2.5,"y":62500,"lo":58500,"hi":66500},{"s":"SDAC-CoR","x":3,"y":73500,"lo":69000,"hi":78000},{"s":"SDAC-CoR","x":3.5,"y":84000,"lo":79500,"hi":88500},{"s":"SDAC-CoR","x":4,"y":95000,"lo":90000,"hi":100000},{"s":"SDAC-CoR","x":4.5,"y":106000,"lo":100500,"hi":111500},{"s":"SDAC-CoR","x":5,"y":116500,"lo":111000,"hi":122000},
{"s":"SDAC","x":0,"y":0,"lo":0,"hi":0},{"s":"SDAC","x":0.5,"y":11000,"lo":9000,"hi":13000},{"s":"SDAC","x":1,"y":28000,"lo":25000,"hi":31000},{"s":"SDAC","x":1.5,"y":44000,"lo":40000,"hi":48000},{"s":"SDAC","x":2,"y":59000,"lo":54000,"hi":64000},{"s":"SDAC","x":2.5,"y":73000,"lo":67000,"hi":79000},{"s":"SDAC","x":3,"y":87000,"lo":80000,"hi":94000},{"s":"SDAC","x":3.5,"y":101000,"lo":93000,"hi":109000},{"s":"SDAC","x":4,"y":115000,"lo":106000,"hi":124000},{"s":"SDAC","x":4.5,"y":129000,"lo":119000,"hi":139000},{"s":"SDAC","x":5,"y":143500,"lo":133000,"hi":154000},
{"s":"CPO","x":0,"y":0,"lo":0,"hi":0},{"s":"CPO","x":0.5,"y":11000,"lo":9000,"hi":13000},{"s":"CPO","x":1,"y":30000,"lo":26500,"hi":33500},{"s":"CPO","x":1.5,"y":50000,"lo":45000,"hi":55000},{"s":"CPO","x":2,"y":69000,"lo":62500,"hi":75500},{"s":"CPO","x":2.5,"y":86000,"lo":78000,"hi":94000},{"s":"CPO","x":3,"y":102500,"lo":93000,"hi":112000},{"s":"CPO","x":3.5,"y":117000,"lo":106000,"hi":128000},{"s":"CPO","x":4,"y":131000,"lo":119000,"hi":143000},{"s":"CPO","x":4.5,"y":144000,"lo":131000,"hi":157000},{"s":"CPO","x":5,"y":157000,"lo":143000,"hi":171000},
{"s":"OffTRC","x":0,"y":0,"lo":0,"hi":0},{"s":"OffTRC","x":0.5,"y":11000,"lo":8000,"hi":14000},{"s":"OffTRC","x":1,"y":33000,"lo":28000,"hi":38000},{"s":"OffTRC","x":1.5,"y":56000,"lo":48000,"hi":64000},{"s":"OffTRC","x":2,"y":78000,"lo":67000,"hi":89000},{"s":"OffTRC","x":2.5,"y":97000,"lo":84000,"hi":110000},{"s":"OffTRC","x":3,"y":115000,"lo":100000,"hi":130000},{"s":"OffTRC","x":3.5,"y":133000,"lo":116000,"hi":150000},{"s":"OffTRC","x":4,"y":151000,"lo":132000,"hi":170000},{"s":"OffTRC","x":4.5,"y":168000,"lo":147000,"hi":189000},{"s":"OffTRC","x":5,"y":184500,"lo":162000,"hi":207000}
]
},
"columns": 4,
"spacing": {"row": 50, "column": 64},
"bounds": "flush",
"align": "each",
"resolve": {"legend": {"color": "independent"}},
"concat": [
{"width": 256, "height": 169, "title": {"text": "PointGoal", "subtitle": "Reward Sum", "fontSize": 16.2, "fontWeight": "bold"}, "data": {"name": "r1"},
 "layer": [
  {"mark": {"type": "area", "opacity": 0.15, "interpolate": "monotone"}, "encoding": {"x": {"field": "x", "type": "quantitative", "scale": {"domain": [0, 5], "nice": false}, "axis": {"values": [0,1,2,3,4,5], "format": "d"}, "title": "Steps"}, "y": {"field": "lo", "type": "quantitative", "stack": null, "scale": {"domain": [-2.86, 25.34], "nice": false, "zero": false}, "axis": {"values": [0,5,10,15,20,25], "labelOverlap": false}, "title": null}, "y2": {"field": "hi"}, "color": {"field": "s", "type": "nominal", "scale": {"domain": ["SDAC-CoR","SDAC","CPO","OffTRC"], "range": ["#1f77b4","#ff7f0e","#2ca02c","#d62728"]}, "legend": null}}},
  {"mark": {"type": "line", "strokeWidth": 1.6, "interpolate": "monotone"}, "encoding": {"x": {"field": "x", "type": "quantitative", "axis": {"values": [0,1,2,3,4,5], "format": "d"}, "title": "Steps"}, "y": {"field": "y", "type": "quantitative", "axis": {"values": [0,5,10,15,20,25], "labelOverlap": false}, "title": null}, "color": {"field": "s", "type": "nominal", "scale": {"domain": ["SDAC-CoR","SDAC","CPO","OffTRC"], "range": ["#1f77b4","#ff7f0e","#2ca02c","#d62728"]}, "legend": null}}},
  {"data": {"values": [{"t": "1e6"}]}, "mark": {"type": "text", "align": "right", "baseline": "middle", "dy": 19.5, "fontSize": 7.7, "color": "#1a1a1a"}, "encoding": {"x": {"datum": 5, "axis": {"values": [0,1,2,3,4,5], "format": "d"}, "title": "Steps"}, "y": {"datum": -2.86, "axis": {"values": [0,5,10,15,20,25], "labelOverlap": false}, "title": null}, "text": {"field": "t"}}}
 ]},
{"width": 258, "height": 169, "title": {"text": "CarGoal", "subtitle": "Reward Sum", "fontSize": 16.2, "fontWeight": "bold"}, "data": {"name": "r2"},
 "layer": [
  {"mark": {"type": "area", "opacity": 0.15, "interpolate": "monotone"}, "encoding": {"x": {"field": "x", "type": "quantitative", "scale": {"domain": [0, 5], "nice": false}, "axis": {"values": [0,1,2,3,4,5], "format": "d"}, "title": "Steps"}, "y": {"field": "lo", "type": "quantitative", "stack": null, "scale": {"domain": [-5.04, 32.5], "nice": false, "zero": false}, "axis": {"values": [0,5,10,15,20,25,30], "labelOverlap": false}, "title": null}, "y2": {"field": "hi"}, "color": {"field": "s", "type": "nominal", "scale": {"domain": ["SDAC-CoR","SDAC","CPO","OffTRC"], "range": ["#1f77b4","#ff7f0e","#2ca02c","#d62728"]}, "legend": null}}},
  {"mark": {"type": "line", "strokeWidth": 1.6, "interpolate": "monotone"}, "encoding": {"x": {"field": "x", "type": "quantitative", "axis": {"values": [0,1,2,3,4,5], "format": "d"}, "title": "Steps"}, "y": {"field": "y", "type": "quantitative", "axis": {"values": [0,5,10,15,20,25,30], "labelOverlap": false}, "title": null}, "color": {"field": "s", "type": "nominal", "scale": {"domain": ["SDAC-CoR","SDAC","CPO","OffTRC"], "range": ["#1f77b4","#ff7f0e","#2ca02c","#d62728"]}, "legend": null}}},
  {"data": {"values": [{"t": "1e6"}]}, "mark": {"type": "text", "align": "right", "baseline": "middle", "dy": 19.5, "fontSize": 7.7, "color": "#1a1a1a"}, "encoding": {"x": {"datum": 5, "axis": {"values": [0,1,2,3,4,5], "format": "d"}, "title": "Steps"}, "y": {"datum": -5.04, "axis": {"values": [0,5,10,15,20,25,30], "labelOverlap": false}, "title": null}, "text": {"field": "t"}}}
 ]},
{"width": 255, "height": 169, "title": {"text": "PointButton", "subtitle": "Reward Sum", "fontSize": 16.2, "fontWeight": "bold"}, "data": {"name": "r3"},
 "layer": [
  {"mark": {"type": "area", "opacity": 0.15, "interpolate": "monotone"}, "encoding": {"x": {"field": "x", "type": "quantitative", "scale": {"domain": [0, 5], "nice": false}, "axis": {"values": [0,1,2,3,4,5], "format": "d"}, "title": "Steps"}, "y": {"field": "lo", "type": "quantitative", "stack": null, "scale": {"domain": [-6.8, 33.2], "nice": false, "zero": false}, "axis": {"values": [-5,0,5,10,15,20,25,30], "labelOverlap": false}, "title": null}, "y2": {"field": "hi"}, "color": {"field": "s", "type": "nominal", "scale": {"domain": ["SDAC-CoR","SDAC","CPO","OffTRC"], "range": ["#1f77b4","#ff7f0e","#2ca02c","#d62728"]}, "legend": null}}},
  {"mark": {"type": "line", "strokeWidth": 1.6, "interpolate": "monotone"}, "encoding": {"x": {"field": "x", "type": "quantitative", "axis": {"values": [0,1,2,3,4,5], "format": "d"}, "title": "Steps"}, "y": {"field": "y", "type": "quantitative", "axis": {"values": [-5,0,5,10,15,20,25,30], "labelOverlap": false}, "title": null}, "color": {"field": "s", "type": "nominal", "scale": {"domain": ["SDAC-CoR","SDAC","CPO","OffTRC"], "range": ["#1f77b4","#ff7f0e","#2ca02c","#d62728"]}, "legend": null}}},
  {"data": {"values": [{"t": "1e6"}]}, "mark": {"type": "text", "align": "right", "baseline": "middle", "dy": 19.5, "fontSize": 7.7, "color": "#1a1a1a"}, "encoding": {"x": {"datum": 5, "axis": {"values": [0,1,2,3,4,5], "format": "d"}, "title": "Steps"}, "y": {"datum": -6.8, "axis": {"values": [-5,0,5,10,15,20,25,30], "labelOverlap": false}, "title": null}, "text": {"field": "t"}}}
 ]},
{"width": 252, "height": 169, "title": {"text": "CarButton", "subtitle": "Reward Sum", "fontSize": 16.2, "fontWeight": "bold"}, "data": {"name": "r4"},
 "layer": [
  {"mark": {"type": "area", "opacity": 0.15, "interpolate": "monotone"}, "encoding": {"x": {"field": "x", "type": "quantitative", "scale": {"domain": [0, 5], "nice": false}, "axis": {"values": [0,1,2,3,4,5], "format": "d"}, "title": "Steps"}, "y": {"field": "lo", "type": "quantitative", "stack": null, "scale": {"domain": [-5.05, 32.6], "nice": false, "zero": false}, "axis": {"values": [0,5,10,15,20,25,30], "labelOverlap": false}, "title": null}, "y2": {"field": "hi"}, "color": {"field": "s", "type": "nominal", "scale": {"domain": ["SDAC-CoR","SDAC","CPO","OffTRC"], "range": ["#1f77b4","#ff7f0e","#2ca02c","#d62728"]}, "legend": null}}},
  {"mark": {"type": "line", "strokeWidth": 1.6, "interpolate": "monotone"}, "encoding": {"x": {"field": "x", "type": "quantitative", "axis": {"values": [0,1,2,3,4,5], "format": "d"}, "title": "Steps"}, "y": {"field": "y", "type": "quantitative", "axis": {"values": [0,5,10,15,20,25,30], "labelOverlap": false}, "title": null}, "color": {"field": "s", "type": "nominal", "scale": {"domain": ["SDAC-CoR","SDAC","CPO","OffTRC"], "range": ["#1f77b4","#ff7f0e","#2ca02c","#d62728"]}, "legend": null}}},
  {"data": {"values": [{"t": "1e6"}]}, "mark": {"type": "text", "align": "right", "baseline": "middle", "dy": 19.5, "fontSize": 7.7, "color": "#1a1a1a"}, "encoding": {"x": {"datum": 5, "axis": {"values": [0,1,2,3,4,5], "format": "d"}, "title": "Steps"}, "y": {"datum": -5.05, "axis": {"values": [0,5,10,15,20,25,30], "labelOverlap": false}, "title": null}, "text": {"field": "t"}}}
 ]},
{"width": 256, "height": 169, "title": "Cost Rate", "data": {"name": "c1"},
 "resolve": {"legend": {"color": "independent"}},
 "layer": [
  {"mark": {"type": "area", "opacity": 0.15}, "encoding": {"x": {"field": "x", "type": "quantitative", "scale": {"domain": [0, 5], "nice": false}, "axis": {"values": [0,1,2,3,4,5], "format": "d"}, "title": "Steps"}, "y": {"field": "lo", "type": "quantitative", "stack": null, "scale": {"domain": [0, 0.2126], "nice": false, "zero": false}, "axis": {"values": [0,0.025,0.05,0.075,0.1,0.125,0.15,0.175,0.2], "format": ".3f", "labelOverlap": false}, "title": null}, "y2": {"field": "hi"}, "color": {"field": "s", "type": "nominal", "scale": {"domain": ["SDAC-CoR","SDAC","CPO","OffTRC"], "range": ["#1f77b4","#ff7f0e","#2ca02c","#d62728"]}, "legend": null}}},
  {"mark": {"type": "line", "strokeWidth": 1.6}, "encoding": {"x": {"field": "x", "type": "quantitative", "axis": {"values": [0,1,2,3,4,5], "format": "d"}, "title": "Steps"}, "y": {"field": "y", "type": "quantitative", "axis": {"values": [0,0.025,0.05,0.075,0.1,0.125,0.15,0.175,0.2], "format": ".3f", "labelOverlap": false}, "title": null}, "color": {"field": "s", "type": "nominal", "scale": {"domain": ["SDAC-CoR","SDAC","CPO","OffTRC"], "range": ["#1f77b4","#ff7f0e","#2ca02c","#d62728"]}, "legend": {"title": null, "orient": "top-right", "offset": 0, "symbolType": "M-2.5,0H2.5", "symbolStrokeWidth": 2, "symbolSize": 100, "symbolOffset": 8.5, "labelFontSize": 12, "labelColor": "black", "rowPadding": 6, "padding": 4, "strokeColor": "#cccccc", "fillColor": "rgba(255,255,255,0.8)", "cornerRadius": 3, "labelOffset": 17.5}}}},
  {"data": {"values": [{"limit": 0.025}]}, "mark": {"type": "rule", "strokeDash": [4, 3], "color": "black", "strokeWidth": 1.2}, "encoding": {"y": {"field": "limit", "type": "quantitative", "axis": {"values": [0,0.025,0.05,0.075,0.1,0.125,0.15,0.175,0.2], "format": ".3f", "labelOverlap": false}, "title": null}}},
  {"data": {"values": [{"t": "1e6"}]}, "mark": {"type": "text", "align": "right", "baseline": "middle", "dy": 19.5, "fontSize": 7.7, "color": "#1a1a1a"}, "encoding": {"x": {"datum": 5, "axis": {"values": [0,1,2,3,4,5], "format": "d"}, "title": "Steps"}, "y": {"datum": 0, "axis": {"values": [0,0.025,0.05,0.075,0.1,0.125,0.15,0.175,0.2], "format": ".3f", "labelOverlap": false}, "title": null}, "text": {"field": "t"}}}
 ]},
{"width": 258, "height": 169, "title": "Cost Rate", "data": {"name": "c2"},
 "layer": [
  {"mark": {"type": "area", "opacity": 0.15}, "encoding": {"x": {"field": "x", "type": "quantitative", "scale": {"domain": [0, 5], "nice": false}, "axis": {"values": [0,1,2,3,4,5], "format": "d"}, "title": "Steps"}, "y": {"field": "lo", "type": "quantitative", "stack": null, "scale": {"domain": [0, 0.151], "nice": false, "zero": false}, "axis": {"values": [0,0.02,0.04,0.06,0.08,0.1,0.12,0.14], "format": ".2f", "labelOverlap": false}, "title": null}, "y2": {"field": "hi"}, "color": {"field": "s", "type": "nominal", "scale": {"domain": ["SDAC-CoR","SDAC","CPO","OffTRC"], "range": ["#1f77b4","#ff7f0e","#2ca02c","#d62728"]}, "legend": null}}},
  {"mark": {"type": "line", "strokeWidth": 1.6}, "encoding": {"x": {"field": "x", "type": "quantitative", "axis": {"values": [0,1,2,3,4,5], "format": "d"}, "title": "Steps"}, "y": {"field": "y", "type": "quantitative", "axis": {"values": [0,0.02,0.04,0.06,0.08,0.1,0.12,0.14], "format": ".2f", "labelOverlap": false}, "title": null}, "color": {"field": "s", "type": "nominal", "scale": {"domain": ["SDAC-CoR","SDAC","CPO","OffTRC"], "range": ["#1f77b4","#ff7f0e","#2ca02c","#d62728"]}, "legend": null}}},
  {"data": {"values": [{"limit": 0.025}]}, "mark": {"type": "rule", "strokeDash": [4, 3], "color": "black", "strokeWidth": 1.2}, "encoding": {"y": {"field": "limit", "type": "quantitative", "axis": {"values": [0,0.02,0.04,0.06,0.08,0.1,0.12,0.14], "format": ".2f", "labelOverlap": false}, "title": null}}},
  {"data": {"values": [{"t": "1e6"}]}, "mark": {"type": "text", "align": "right", "baseline": "middle", "dy": 19.5, "fontSize": 7.7, "color": "#1a1a1a"}, "encoding": {"x": {"datum": 5, "axis": {"values": [0,1,2,3,4,5], "format": "d"}, "title": "Steps"}, "y": {"datum": 0, "axis": {"values": [0,0.02,0.04,0.06,0.08,0.1,0.12,0.14], "format": ".2f", "labelOverlap": false}, "title": null}, "text": {"field": "t"}}}
 ]},
{"width": 255, "height": 169, "title": "Cost Rate", "data": {"name": "c3"},
 "layer": [
  {"mark": {"type": "area", "opacity": 0.15}, "encoding": {"x": {"field": "x", "type": "quantitative", "scale": {"domain": [0, 5], "nice": false}, "axis": {"values": [0,1,2,3,4,5], "format": "d"}, "title": "Steps"}, "y": {"field": "lo", "type": "quantitative", "stack": null, "scale": {"domain": [0, 0.1224], "nice": false, "zero": false}, "axis": {"values": [0,0.02,0.04,0.06,0.08,0.1,0.12], "format": ".2f", "labelOverlap": false}, "title": null}, "y2": {"field": "hi"}, "color": {"field": "s", "type": "nominal", "scale": {"domain": ["SDAC-CoR","SDAC","CPO","OffTRC"], "range": ["#1f77b4","#ff7f0e","#2ca02c","#d62728"]}, "legend": null}}},
  {"mark": {"type": "line", "strokeWidth": 1.6}, "encoding": {"x": {"field": "x", "type": "quantitative", "axis": {"values": [0,1,2,3,4,5], "format": "d"}, "title": "Steps"}, "y": {"field": "y", "type": "quantitative", "axis": {"values": [0,0.02,0.04,0.06,0.08,0.1,0.12], "format": ".2f", "labelOverlap": false}, "title": null}, "color": {"field": "s", "type": "nominal", "scale": {"domain": ["SDAC-CoR","SDAC","CPO","OffTRC"], "range": ["#1f77b4","#ff7f0e","#2ca02c","#d62728"]}, "legend": null}}},
  {"data": {"values": [{"limit": 0.02}]}, "mark": {"type": "rule", "strokeDash": [4, 3], "color": "black", "strokeWidth": 1.2}, "encoding": {"y": {"field": "limit", "type": "quantitative", "axis": {"values": [0,0.02,0.04,0.06,0.08,0.1,0.12], "format": ".2f", "labelOverlap": false}, "title": null}}},
  {"data": {"values": [{"t": "1e6"}]}, "mark": {"type": "text", "align": "right", "baseline": "middle", "dy": 19.5, "fontSize": 7.7, "color": "#1a1a1a"}, "encoding": {"x": {"datum": 5, "axis": {"values": [0,1,2,3,4,5], "format": "d"}, "title": "Steps"}, "y": {"datum": 0, "axis": {"values": [0,0.02,0.04,0.06,0.08,0.1,0.12], "format": ".2f", "labelOverlap": false}, "title": null}, "text": {"field": "t"}}}
 ]},
{"width": 252, "height": 169, "title": "Cost Rate", "data": {"name": "c4"},
 "layer": [
  {"mark": {"type": "area", "opacity": 0.15}, "encoding": {"x": {"field": "x", "type": "quantitative", "scale": {"domain": [0, 5], "nice": false}, "axis": {"values": [0,1,2,3,4,5], "format": "d"}, "title": "Steps"}, "y": {"field": "lo", "type": "quantitative", "stack": null, "scale": {"domain": [0, 0.147], "nice": false, "zero": false}, "axis": {"values": [0,0.02,0.04,0.06,0.08,0.1,0.12,0.14], "format": ".2f", "labelOverlap": false}, "title": null}, "y2": {"field": "hi"}, "color": {"field": "s", "type": "nominal", "scale": {"domain": ["SDAC-CoR","SDAC","CPO","OffTRC"], "range": ["#1f77b4","#ff7f0e","#2ca02c","#d62728"]}, "legend": null}}},
  {"mark": {"type": "line", "strokeWidth": 1.6}, "encoding": {"x": {"field": "x", "type": "quantitative", "axis": {"values": [0,1,2,3,4,5], "format": "d"}, "title": "Steps"}, "y": {"field": "y", "type": "quantitative", "axis": {"values": [0,0.02,0.04,0.06,0.08,0.1,0.12,0.14], "format": ".2f", "labelOverlap": false}, "title": null}, "color": {"field": "s", "type": "nominal", "scale": {"domain": ["SDAC-CoR","SDAC","CPO","OffTRC"], "range": ["#1f77b4","#ff7f0e","#2ca02c","#d62728"]}, "legend": null}}},
  {"data": {"values": [{"limit": 0.02}]}, "mark": {"type": "rule", "strokeDash": [4, 3], "color": "black", "strokeWidth": 1.2}, "encoding": {"y": {"field": "limit", "type": "quantitative", "axis": {"values": [0,0.02,0.04,0.06,0.08,0.1,0.12,0.14], "format": ".2f", "labelOverlap": false}, "title": null}}},
  {"data": {"values": [{"t": "1e6"}]}, "mark": {"type": "text", "align": "right", "baseline": "middle", "dy": 19.5, "fontSize": 7.7, "color": "#1a1a1a"}, "encoding": {"x": {"datum": 5, "axis": {"values": [0,1,2,3,4,5], "format": "d"}, "title": "Steps"}, "y": {"datum": 0, "axis": {"values": [0,0.02,0.04,0.06,0.08,0.1,0.12,0.14], "format": ".2f", "labelOverlap": false}, "title": null}, "text": {"field": "t"}}}
 ]},
{"width": 256, "height": 169, "title": "Total CV", "data": {"name": "v1"},
 "layer": [
  {"mark": {"type": "area", "opacity": 0.15, "interpolate": "monotone"}, "encoding": {"x": {"field": "x", "type": "quantitative", "scale": {"domain": [0, 5], "nice": false}, "axis": {"values": [0,1,2,3,4,5], "format": "d"}, "title": "Steps"}, "y": {"field": "lo", "type": "quantitative", "stack": null, "scale": {"domain": [0, 89700], "nice": false, "zero": false}, "axis": {"values": [0,10000,20000,30000,40000,50000,60000,70000,80000], "format": "d", "labelOverlap": false}, "title": null}, "y2": {"field": "hi"}, "color": {"field": "s", "type": "nominal", "scale": {"domain": ["SDAC-CoR","SDAC","CPO","OffTRC"], "range": ["#1f77b4","#ff7f0e","#2ca02c","#d62728"]}, "legend": null}}},
  {"mark": {"type": "line", "strokeWidth": 1.6, "interpolate": "monotone"}, "encoding": {"x": {"field": "x", "type": "quantitative", "axis": {"values": [0,1,2,3,4,5], "format": "d"}, "title": "Steps"}, "y": {"field": "y", "type": "quantitative", "axis": {"values": [0,10000,20000,30000,40000,50000,60000,70000,80000], "format": "d", "labelOverlap": false}, "title": null}, "color": {"field": "s", "type": "nominal", "scale": {"domain": ["SDAC-CoR","SDAC","CPO","OffTRC"], "range": ["#1f77b4","#ff7f0e","#2ca02c","#d62728"]}, "legend": null}}},
  {"data": {"values": [{"t": "1e6"}]}, "mark": {"type": "text", "align": "right", "baseline": "middle", "dy": 19.5, "fontSize": 7.7, "color": "#1a1a1a"}, "encoding": {"x": {"datum": 5, "axis": {"values": [0,1,2,3,4,5], "format": "d"}, "title": "Steps"}, "y": {"datum": 0, "axis": {"values": [0,10000,20000,30000,40000,50000,60000,70000,80000], "format": "d", "labelOverlap": false}, "title": null}, "text": {"field": "t"}}}
 ]},
{"width": 258, "height": 169, "title": "Total CV", "data": {"name": "v2"},
 "layer": [
  {"mark": {"type": "area", "opacity": 0.15, "interpolate": "monotone"}, "encoding": {"x": {"field": "x", "type": "quantitative", "scale": {"domain": [0, 5], "nice": false}, "axis": {"values": [0,1,2,3,4,5], "format": "d"}, "title": "Steps"}, "y": {"field": "lo", "type": "quantitative", "stack": null, "scale": {"domain": [0, 69750], "nice": false, "zero": false}, "axis": {"values": [0,10000,20000,30000,40000,50000,60000], "format": "d", "labelOverlap": false}, "title": null}, "y2": {"field": "hi"}, "color": {"field": "s", "type": "nominal", "scale": {"domain": ["SDAC-CoR","SDAC","CPO","OffTRC"], "range": ["#1f77b4","#ff7f0e","#2ca02c","#d62728"]}, "legend": null}}},
  {"mark": {"type": "line", "strokeWidth": 1.6, "interpolate": "monotone"}, "encoding": {"x": {"field": "x", "type": "quantitative", "axis": {"values": [0,1,2,3,4,5], "format": "d"}, "title": "Steps"}, "y": {"field": "y", "type": "quantitative", "axis": {"values": [0,10000,20000,30000,40000,50000,60000], "format": "d", "labelOverlap": false}, "title": null}, "color": {"field": "s", "type": "nominal", "scale": {"domain": ["SDAC-CoR","SDAC","CPO","OffTRC"], "range": ["#1f77b4","#ff7f0e","#2ca02c","#d62728"]}, "legend": null}}},
  {"data": {"values": [{"t": "1e6"}]}, "mark": {"type": "text", "align": "right", "baseline": "middle", "dy": 19.5, "fontSize": 7.7, "color": "#1a1a1a"}, "encoding": {"x": {"datum": 5, "axis": {"values": [0,1,2,3,4,5], "format": "d"}, "title": "Steps"}, "y": {"datum": 0, "axis": {"values": [0,10000,20000,30000,40000,50000,60000], "format": "d", "labelOverlap": false}, "title": null}, "text": {"field": "t"}}}
 ]},
{"width": 255, "height": 169, "title": "Total CV", "data": {"name": "v3"},
 "layer": [
  {"mark": {"type": "area", "opacity": 0.15, "interpolate": "monotone"}, "encoding": {"x": {"field": "x", "type": "quantitative", "scale": {"domain": [0, 5], "nice": false}, "axis": {"values": [0,1,2,3,4,5], "format": "d"}, "title": "Steps"}, "y": {"field": "lo", "type": "quantitative", "stack": null, "scale": {"domain": [0, 165900], "nice": false, "zero": false}, "axis": {"values": [0,20000,40000,60000,80000,100000,120000,140000,160000], "format": "d", "labelOverlap": false}, "title": null}, "y2": {"field": "hi"}, "color": {"field": "s", "type": "nominal", "scale": {"domain": ["SDAC-CoR","SDAC","CPO","OffTRC"], "range": ["#1f77b4","#ff7f0e","#2ca02c","#d62728"]}, "legend": null}}},
  {"mark": {"type": "line", "strokeWidth": 1.6, "interpolate": "monotone"}, "encoding": {"x": {"field": "x", "type": "quantitative", "axis": {"values": [0,1,2,3,4,5], "format": "d"}, "title": "Steps"}, "y": {"field": "y", "type": "quantitative", "axis": {"values": [0,20000,40000,60000,80000,100000,120000,140000,160000], "format": "d", "labelOverlap": false}, "title": null}, "color": {"field": "s", "type": "nominal", "scale": {"domain": ["SDAC-CoR","SDAC","CPO","OffTRC"], "range": ["#1f77b4","#ff7f0e","#2ca02c","#d62728"]}, "legend": null}}},
  {"data": {"values": [{"t": "1e6"}]}, "mark": {"type": "text", "align": "right", "baseline": "middle", "dy": 19.5, "fontSize": 7.7, "color": "#1a1a1a"}, "encoding": {"x": {"datum": 5, "axis": {"values": [0,1,2,3,4,5], "format": "d"}, "title": "Steps"}, "y": {"datum": 0, "axis": {"values": [0,20000,40000,60000,80000,100000,120000,140000,160000], "format": "d", "labelOverlap": false}, "title": null}, "text": {"field": "t"}}}
 ]},
{"width": 252, "height": 169, "title": "Total CV", "data": {"name": "v4"},
 "layer": [
  {"mark": {"type": "area", "opacity": 0.15, "interpolate": "monotone"}, "encoding": {"x": {"field": "x", "type": "quantitative", "scale": {"domain": [0, 5], "nice": false}, "axis": {"values": [0,1,2,3,4,5], "format": "d"}, "title": "Steps"}, "y": {"field": "lo", "type": "quantitative", "stack": null, "scale": {"domain": [0, 208200], "nice": false, "zero": false}, "axis": {"values": [0,25000,50000,75000,100000,125000,150000,175000,200000], "format": "d", "labelOverlap": false}, "title": null}, "y2": {"field": "hi"}, "color": {"field": "s", "type": "nominal", "scale": {"domain": ["SDAC-CoR","SDAC","CPO","OffTRC"], "range": ["#1f77b4","#ff7f0e","#2ca02c","#d62728"]}, "legend": null}}},
  {"mark": {"type": "line", "strokeWidth": 1.6, "interpolate": "monotone"}, "encoding": {"x": {"field": "x", "type": "quantitative", "axis": {"values": [0,1,2,3,4,5], "format": "d"}, "title": "Steps"}, "y": {"field": "y", "type": "quantitative", "axis": {"values": [0,25000,50000,75000,100000,125000,150000,175000,200000], "format": "d", "labelOverlap": false}, "title": null}, "color": {"field": "s", "type": "nominal", "scale": {"domain": ["SDAC-CoR","SDAC","CPO","OffTRC"], "range": ["#1f77b4","#ff7f0e","#2ca02c","#d62728"]}, "legend": null}}},
  {"data": {"values": [{"t": "1e6"}]}, "mark": {"type": "text", "align": "right", "baseline": "middle", "dy": 19.5, "fontSize": 7.7, "color": "#1a1a1a"}, "encoding": {"x": {"datum": 5, "axis": {"values": [0,1,2,3,4,5], "format": "d"}, "title": "Steps"}, "y": {"datum": 0, "axis": {"values": [0,25000,50000,75000,100000,125000,150000,175000,200000], "format": "d", "labelOverlap": false}, "title": null}, "text": {"field": "t"}}}
 ]}
],
"config": {
 "font": "DejaVu Sans",
 "view": {"stroke": "#333333", "strokeWidth": 1},
 "axis": {"labelFont": "DejaVu Sans", "labelFontSize": 7.7, "labelColor": "#1a1a1a", "tickColor": "#1a1a1a", "tickSize": 3.5, "tickWidth": 0.8, "labelPadding": 2.5, "domain": false, "gridColor": "#c8c8c8", "gridWidth": 0.8, "titleFont": "DejaVu Sans", "titleFontSize": 7.7, "titleFontWeight": "normal", "titleColor": "#1a1a1a", "titlePadding": 0},
 "title": {"font": "DejaVu Sans", "fontSize": 14.6, "fontWeight": "normal", "color": "black", "offset": 2.5, "frame": "group", "anchor": "middle", "subtitleFont": "DejaVu Sans", "subtitleFontSize": 14.6, "subtitleColor": "black", "subtitlePadding": 23},
 "legend": {"labelFont": "DejaVu Sans"}
}
}
